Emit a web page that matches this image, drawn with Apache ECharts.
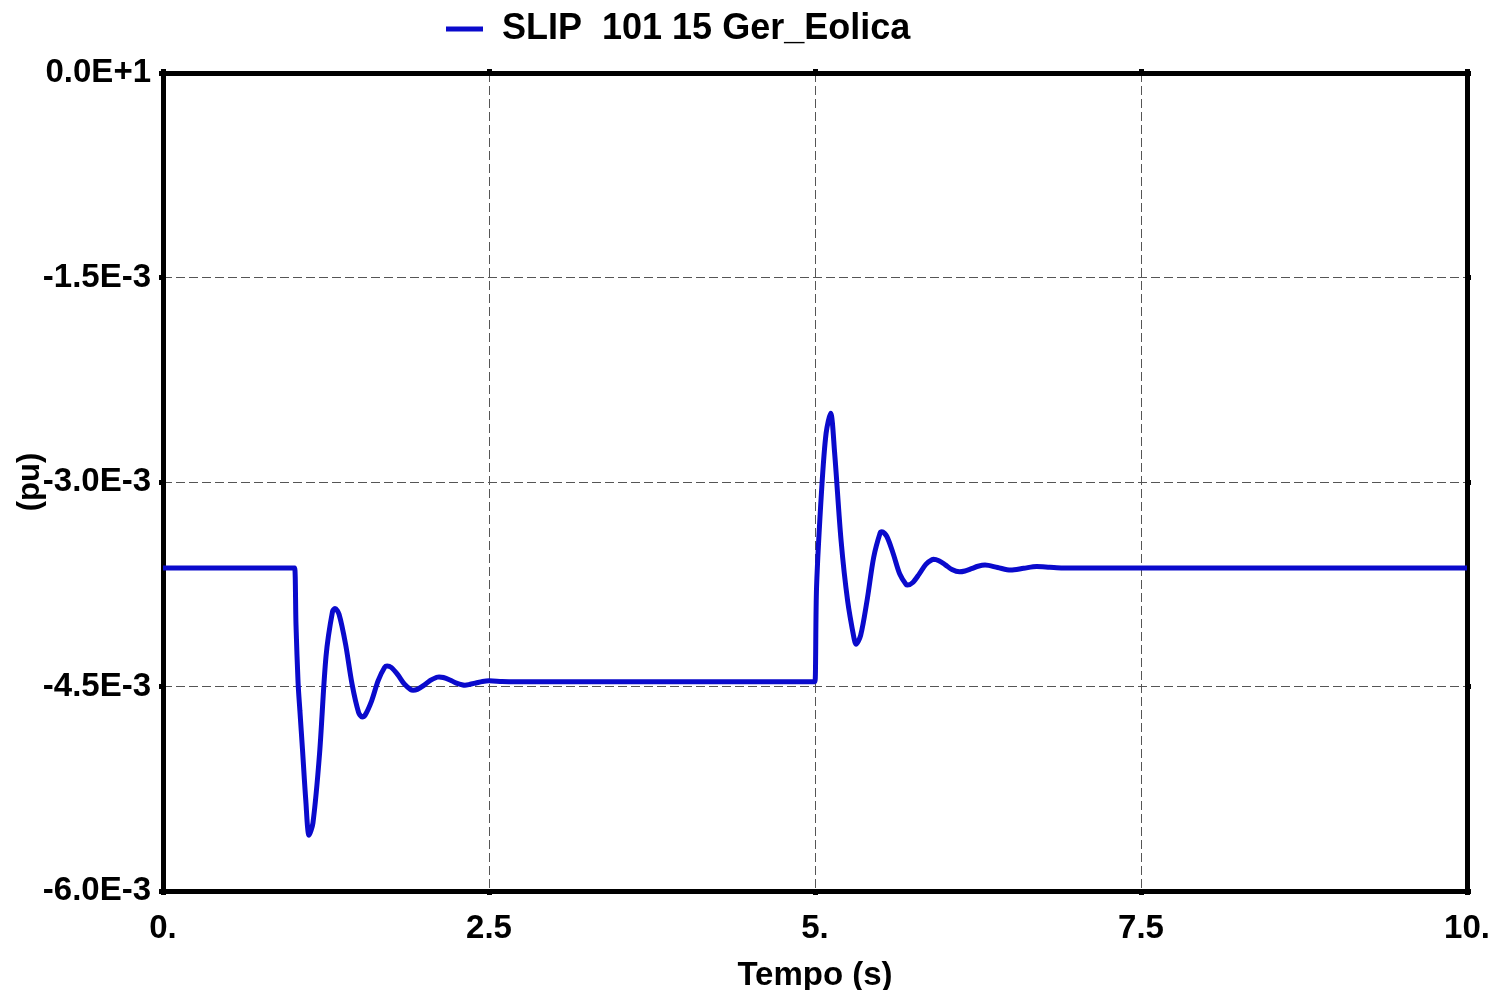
<!DOCTYPE html>
<html>
<head>
<meta charset="utf-8">
<title>SLIP 101 15 Ger_Eolica</title>
<script src="https://cdn.jsdelivr.net/npm/echarts@6/dist/echarts.min.js"></script>
<style>
  html, body { margin: 0; padding: 0; background: #fff; }
  #chart { width: 1490px; height: 990px; }
</style>
</head>
<body>
<div id="chart"></div>
<script>
// Simulation time (s)
const timeS = [
  0.00, 1.00, 1.01, 1.02, 1.036, 1.05, 1.07, 1.095, 1.12, 1.15, 1.20, 1.25, 1.30, 1.319,
  1.35, 1.40, 1.45, 1.50, 1.527, 1.55, 1.60, 1.65, 1.70, 1.719, 1.75, 1.80, 1.85, 1.90, 1.918,
  1.95, 2.00, 2.05, 2.10, 2.117, 2.15, 2.20, 2.25, 2.30, 2.316, 2.35, 2.40, 2.45, 2.50, 2.60, 2.70,
  3.50, 4.99, 5.00,
  5.012, 5.052, 5.085, 5.12, 5.15, 5.20, 5.25, 5.30, 5.314, 5.35, 5.40, 5.45, 5.50, 5.513,
  5.55, 5.60, 5.65, 5.70, 5.709, 5.75, 5.80, 5.85, 5.90, 5.908, 5.95, 6.00, 6.05, 6.107,
  6.15, 6.20, 6.25, 6.304, 6.40, 6.50, 6.60, 6.70, 6.80, 6.90, 10.00
];
// Rotor slip (pu)
const slipPu = [
  -3.63e-3, -3.63e-3, -3.63e-3, -4.05e-3, -4.475e-3, -4.68e-3, -4.967e-3, -5.334e-3, -5.591e-3, -5.50e-3, -5.00e-3, -4.28e-3, -3.95e-3, -3.927e-3,
  -3.970e-3, -4.189e-3, -4.483e-3, -4.690e-3, -4.723e-3, -4.710e-3, -4.605e-3, -4.457e-3, -4.359e-3, -4.350e-3, -4.360e-3, -4.413e-3, -4.481e-3, -4.523e-3, -4.527e-3,
  -4.521e-3, -4.492e-3, -4.455e-3, -4.432e-3, -4.430e-3, -4.434e-3, -4.452e-3, -4.475e-3, -4.489e-3, -4.490e-3, -4.485e-3, -4.474e-3, -4.463e-3, -4.458e-3, -4.463e-3, -4.465e-3,
  -4.465e-3, -4.465e-3, -4.465e-3,
  -3.77e-3, -3.04e-3, -2.643e-3, -2.496e-3, -2.78e-3, -3.43e-3, -3.87e-3, -4.15e-3, -4.19e-3, -4.125e-3, -3.864e-3, -3.553e-3, -3.373e-3, -3.365e-3,
  -3.398e-3, -3.526e-3, -3.675e-3, -3.754e-3, -3.756e-3, -3.737e-3, -3.674e-3, -3.604e-3, -3.568e-3, -3.567e-3, -3.577e-3, -3.608e-3, -3.642e-3, -3.659e-3,
  -3.653e-3, -3.636e-3, -3.618e-3, -3.609e-3, -3.627e-3, -3.646e-3, -3.633e-3, -3.620e-3, -3.625e-3, -3.63e-3, -3.63e-3
];
const seriesName = 'SLIP  101 15 Ger_Eolica';
const xTickLabels = ['0.', '2.5', '5.', '7.5', '10.'];
const yTickLabels = ['-6.0E-3', '-4.5E-3', '-3.0E-3', '-1.5E-3', '0.0E+1'];

const X_STEP = 2.5, Y_MIN = -6e-3, Y_STEP = 1.5e-3;
const FONT = 'Liberation Sans, Arial, sans-serif';

const points = timeS.map((t, i) => [t, slipPu[i]]);

const frameLine = { show: true, onZero: false, lineStyle: { color: '#000', width: 5 } };
const frameTick = { show: true, length: 4, lineStyle: { color: '#000', width: 5 } };
const gridDash = { show: true, lineStyle: { color: '#555', width: 1, type: [9, 4] } };

const chart = echarts.init(document.getElementById('chart'), null, { renderer: 'canvas' });
chart.setOption({
  animation: false,
  backgroundColor: '#fff',
  textStyle: { fontFamily: FONT },
  legend: {
    top: 6,
    left: 441,
    icon: 'rect',
    itemWidth: 37,
    itemHeight: 5,
    textStyle: { fontFamily: FONT, fontSize: 36, fontWeight: 'bold', color: '#000', padding: [0, 0, 0, 14] },
    data: [seriesName]
  },
  grid: { left: 163, right: 23, top: 73, bottom: 99, containLabel: false, outerBoundsMode: 'none' },
  xAxis: [
    {
      type: 'value', min: 0, max: 10, interval: X_STEP, position: 'bottom',
      name: 'Tempo (s)', nameLocation: 'middle', nameGap: 68, nameMoveOverlap: false,
      nameTextStyle: { fontFamily: FONT, fontSize: 33, fontWeight: 'bold', color: '#000' },
      axisLine: frameLine, axisTick: frameTick, splitLine: gridDash,
      axisLabel: {
        margin: 21, fontFamily: FONT, fontSize: 33, fontWeight: 'bold', color: '#000',
        formatter: v => xTickLabels[Math.round(v / X_STEP)]
      }
    },
    {
      type: 'value', min: 0, max: 10, interval: X_STEP, position: 'top',
      axisLine: frameLine, axisTick: frameTick, splitLine: { show: false }, axisLabel: { show: false }
    }
  ],
  yAxis: [
    {
      type: 'value', min: Y_MIN, max: 0, interval: Y_STEP, position: 'left',
      name: '(pu)', nameLocation: 'middle', nameGap: 117, nameMoveOverlap: false,
      nameTextStyle: { fontFamily: FONT, fontSize: 31, fontWeight: 'bold', color: '#000' },
      axisLine: frameLine, axisTick: frameTick, splitLine: gridDash,
      axisLabel: {
        margin: 12, fontFamily: FONT, fontSize: 33, fontWeight: 'bold', color: '#000',
        formatter: v => yTickLabels[Math.round((v - Y_MIN) / Y_STEP)]
      }
    },
    {
      type: 'value', min: Y_MIN, max: 0, interval: Y_STEP, position: 'right',
      axisLine: frameLine, axisTick: frameTick, splitLine: { show: false }, axisLabel: { show: false }
    }
  ],
  series: [
    {
      name: seriesName,
      type: 'line',
      xAxisIndex: 0,
      yAxisIndex: 0,
      data: points,
      smooth: 0.3,
      showSymbol: false,
      color: '#0a0acc',
      lineStyle: { color: '#0a0acc', width: 5 },
      z: 1
    }
  ]
});
</script>
</body>
</html>
